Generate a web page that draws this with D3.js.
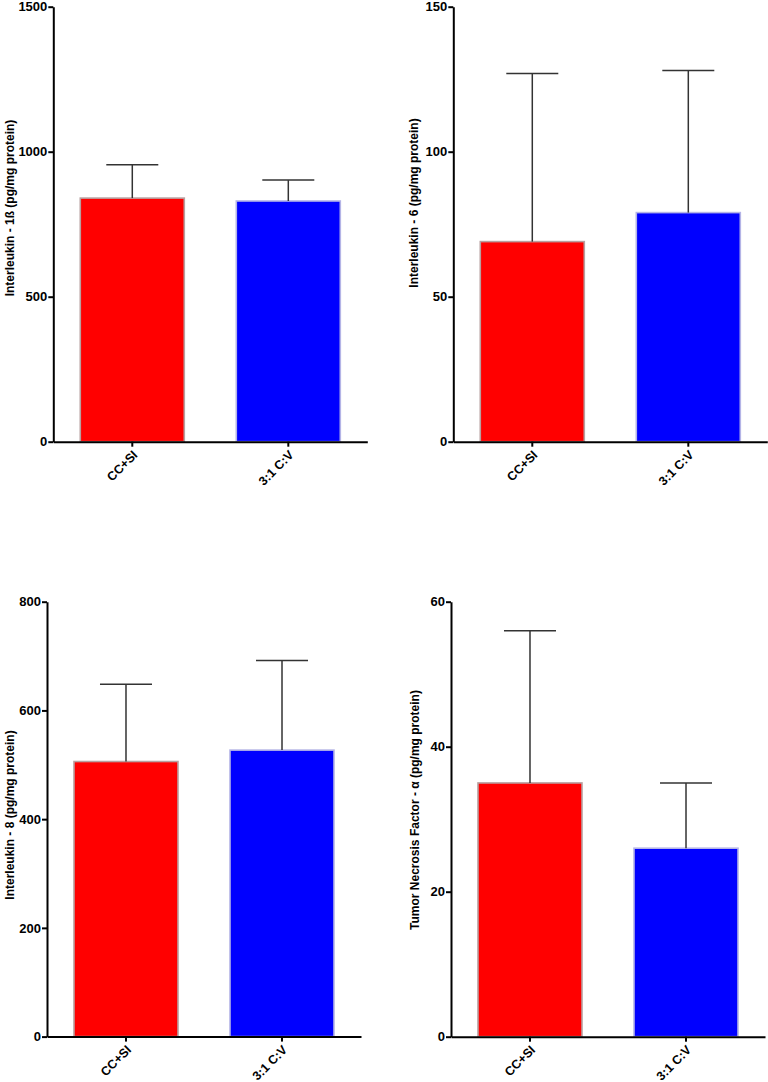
<!DOCTYPE html>
<html><head><meta charset="utf-8">
<script src="https://cdn.jsdelivr.net/npm/d3@7"></script>
<style>
html,body{margin:0;padding:0;background:#fff;}
svg{display:block;font-family:"Liberation Sans",Arial,Helvetica,sans-serif;font-weight:bold;}
</style></head>
<body>
<svg id="chart" width="768" height="1082"></svg>
<script>
const categories = ["CC+SI", "3:1 C:V"];
const colors = ["#ff0000", "#0000ff"];
const strokeColors = ["#b8a0a0", "#b4b4e6"];

const il1bMeans = [840, 830];
const il1bErrors = [955, 902];
const il1bTicks = [0, 500, 1000, 1500];

const il6Means = [69, 79];
const il6Errors = [127, 128];
const il6Ticks = [0, 50, 100, 150];

const il8Means = [506, 527];
const il8Errors = [648, 692];
const il8Ticks = [0, 200, 400, 600, 800];

const tnfMeans = [35, 26];
const tnfErrors = [56, 35];
const tnfTicks = [0, 20, 40, 60];

const panels = [
  {label: "Interleukin - 1ß (pg/mg protein)", means: il1bMeans, errs: il1bErrors, ticks: il1bTicks,
   ax: 53.3, top: 6.7, bottom: 441.7, lx: 10, ly: 208},
  {label: "Interleukin - 6 (pg/mg protein)", means: il6Means, errs: il6Errors, ticks: il6Ticks,
   ax: 453.3, top: 6.7, bottom: 441.7, lx: 414, ly: 203},
  {label: "Interleukin - 8 (pg/mg protein)", means: il8Means, errs: il8Errors, ticks: il8Ticks,
   ax: 47, top: 601.7, bottom: 1036.6, lx: 10, ly: 815},
  {label: "Tumor Necrosis Factor - α (pg/mg protein)", means: tnfMeans, errs: tnfErrors, ticks: tnfTicks,
   ax: 451, top: 601.7, bottom: 1036.7, lx: 415, ly: 810}
];

const svg = d3.select("#chart");

panels.forEach(p => {
  const g = svg.append("g");
  const y = d3.scaleLinear().domain([0, d3.max(p.ticks)]).range([p.bottom, p.top]);
  const x = d3.scaleBand().domain(categories).range([p.ax, p.ax + 314])
    .paddingInner(1/3).paddingOuter(0.173);

  // bars
  g.selectAll("rect.bar").data(categories).enter().append("rect")
    .attr("x", d => x(d))
    .attr("width", x.bandwidth())
    .attr("y", (d, i) => y(p.means[i]))
    .attr("height", (d, i) => y(0) - y(p.means[i]))
    .attr("fill", (d, i) => colors[i])
    .attr("stroke", (d, i) => strokeColors[i])
    .attr("stroke-width", 1.6);

  // error bars (upper only)
  categories.forEach((c, i) => {
    const cx = x(c) + x.bandwidth() / 2;
    g.append("line").attr("x1", cx).attr("x2", cx)
      .attr("y1", y(p.means[i])).attr("y2", y(p.errs[i]))
      .attr("stroke", "#333").attr("stroke-width", 1.5);
    g.append("line").attr("x1", cx - x.bandwidth() / 4).attr("x2", cx + x.bandwidth() / 4)
      .attr("y1", y(p.errs[i])).attr("y2", y(p.errs[i]))
      .attr("stroke", "#333").attr("stroke-width", 1.5);
  });

  // y axis
  const yAxis = d3.axisLeft(y).tickValues(p.ticks).tickFormat(d3.format("d"))
    .tickSize(5).tickPadding(1).tickSizeOuter(0);
  const ya = g.append("g").attr("transform", `translate(${p.ax},0)`).call(yAxis);
  ya.select(".domain").attr("stroke", "#000").attr("stroke-width", 2);
  ya.selectAll(".tick line").attr("stroke", "#000").attr("stroke-width", 2);
  ya.selectAll(".tick text").attr("font-size", 13).attr("font-weight", "bold")
    .attr("font-family", "Liberation Sans, Arial, sans-serif").attr("fill", "#000");

  // x axis
  const xAxis = d3.axisBottom(x).tickSize(5).tickSizeOuter(0).tickPadding(2);
  const xa = g.append("g").attr("transform", `translate(0,${p.bottom})`).call(xAxis);
  xa.select(".domain").attr("stroke", "#000").attr("stroke-width", 2);
  xa.selectAll(".tick line").attr("stroke", "#000").attr("stroke-width", 2);
  xa.selectAll(".tick text")
    .attr("font-size", 12.5).attr("font-weight", "bold")
    .attr("font-family", "Liberation Sans, Arial, sans-serif").attr("fill", "#000")
    .attr("text-anchor", "end")
    .attr("dy", null)
    .attr("y", 0)
    .attr("transform", "translate(6,14) rotate(-45)");

  // y label
  g.append("text")
    .attr("transform", `translate(${p.lx},${p.ly}) rotate(-90)`)
    .attr("text-anchor", "middle")
    .attr("dominant-baseline", "central")
    .attr("font-size", 12)
    .attr("fill", "#000")
    .text(p.label);
});
</script>
</body></html>
